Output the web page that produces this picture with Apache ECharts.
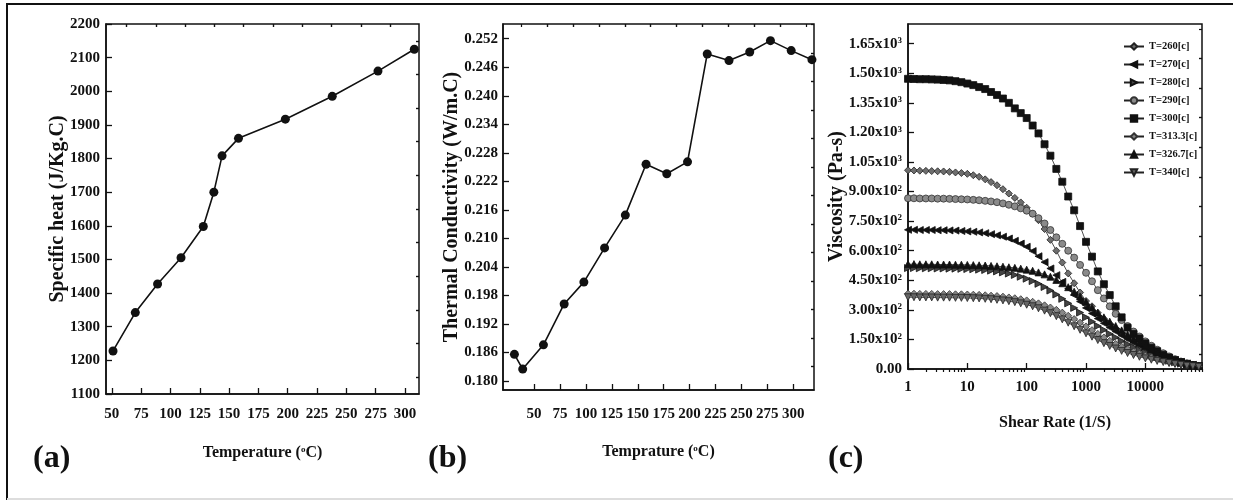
<!DOCTYPE html>
<html lang="en">
<head>
<meta charset="UTF-8">
<title>Specific heat, thermal conductivity and viscosity</title>
<script src="https://cdn.jsdelivr.net/npm/echarts@6/dist/echarts.min.js"></script>
<style>
  body { margin: 0; background: #fff; }
  #chart { width: 1233px; height: 502px; }
</style>
</head>
<body>
<div id="chart"></div>
<script>
// (a) specific heat
var tempA = [51, 70, 89, 109, 128, 137, 144, 158, 198, 238, 277, 308];
var heatA = [1228, 1342, 1427, 1505, 1598, 1700, 1808, 1860, 1917, 1985, 2060, 2125];

// (b) thermal conductivity
var tempB = [31, 39, 59, 79, 98, 118, 138, 158, 178, 198, 217, 238, 258, 278, 298, 318];
var condB = [0.1856, 0.1825, 0.1876, 0.1962, 0.2008, 0.2080, 0.2149, 0.2256, 0.2236, 0.2261,
             0.2488, 0.2474, 0.2492, 0.2516, 0.2495, 0.2476];

// (c) viscosity vs shear rate
var shearRate = [1, 1.26, 1.58, 2, 2.51, 3.16, 3.98, 5.01, 6.31, 7.94,
                 10, 12.6, 15.8, 20, 25.1, 31.6, 39.8, 50.1, 63.1, 79.4,
                 100, 126, 158, 200, 251, 316, 398, 501, 631, 794,
                 1000, 1260, 1580, 2000, 2510, 3160, 3980, 5010, 6310, 7940,
                 10000, 12600, 15800, 20000, 25100, 31600, 39800, 50100, 63100, 79400];
var visc260 = [1008, 1007, 1006, 1005, 1004, 1003, 1002, 1000, 997, 994,
               990, 983, 975, 962, 948, 932, 912, 890, 868, 845,
               818, 788, 755, 710, 655, 600, 540, 485, 435, 388,
               345, 318, 285, 255, 230, 205, 180, 158, 138, 120,
               104, 88, 74, 61, 50, 40, 32, 25, 19, 14];
var visc270 = [706, 706, 705, 705, 705, 704, 704, 703, 702, 700,
               698, 696, 693, 689, 684, 678, 671, 662, 650, 636,
               620, 598, 572, 542, 510, 476, 442, 408, 375, 342,
               310, 282, 256, 232, 210, 190, 170, 152, 136, 120,
               106, 92, 79, 66, 55, 45, 36, 28, 21, 15];
var visc280 = [512, 512, 511, 511, 511, 510, 510, 509, 509, 508,
               507, 506, 504, 502, 499, 495, 490, 484, 477, 468,
               458, 446, 432, 416, 398, 378, 356, 333, 310, 286,
               262, 240, 218, 198, 178, 160, 142, 126, 111, 97,
               84, 72, 61, 51, 42, 34, 27, 21, 16, 12];
var visc290 = [866, 866, 865, 865, 865, 864, 864, 863, 862, 861,
               860, 858, 856, 853, 850, 846, 840, 833, 825, 815,
               803, 788, 765, 738, 705, 668, 635, 600, 565, 528,
               488, 445, 400, 358, 318, 280, 248, 218, 190, 165,
               140, 118, 98, 80, 64, 50, 38, 29, 21, 15];
var visc300 = [1472, 1471, 1470, 1470, 1469, 1468, 1466, 1464, 1460, 1455,
               1448, 1440, 1430, 1420, 1405, 1390, 1372, 1350, 1322, 1298,
               1273, 1235, 1195, 1140, 1082, 1015, 950, 875, 805, 725,
               645, 570, 495, 430, 375, 318, 262, 210, 178, 155,
               130, 108, 90, 72, 58, 45, 35, 26, 20, 15];
var visc313 = [382, 382, 381, 381, 381, 380, 380, 380, 379, 379,
               378, 377, 376, 374, 372, 370, 367, 363, 359, 354,
               348, 341, 333, 323, 312, 300, 286, 270, 253, 235,
               216, 197, 178, 160, 143, 127, 113, 100, 88, 78,
               68, 59, 51, 43, 36, 30, 25, 20, 16, 12];
var visc327 = [532, 532, 531, 531, 531, 530, 530, 530, 529, 529,
               528, 527, 526, 525, 523, 521, 519, 516, 513, 509,
               504, 498, 490, 480, 468, 452, 435, 415, 392, 368,
               340, 312, 285, 262, 240, 218, 196, 175, 155, 136,
               118, 100, 84, 70, 57, 46, 36, 28, 21, 15];
var visc340 = [364, 364, 363, 363, 363, 362, 362, 362, 361, 361,
               360, 359, 358, 356, 354, 351, 348, 344, 339, 333,
               326, 318, 308, 296, 283, 268, 252, 235, 217, 199,
               181, 164, 147, 131, 117, 104, 92, 81, 71, 62,
               54, 47, 41, 35, 30, 25, 21, 17, 14, 11];

// tick values
var tempTicks = [50, 75, 100, 125, 150, 175, 200, 225, 250, 275, 300];
var heatTicks = [1100, 1200, 1300, 1400, 1500, 1600, 1700, 1800, 1900, 2000, 2100, 2200];
var condTicks = [0.180, 0.186, 0.192, 0.198, 0.204, 0.210, 0.216, 0.222, 0.228, 0.234, 0.240, 0.246, 0.252];
var viscTicks = [0, 150, 300, 450, 600, 750, 900, 1050, 1200, 1350, 1500, 1650];
var rateTicks = [1, 10, 100, 1000, 10000];

var FONT = 'Liberation Serif';

function halfSteps(ticks, step) {
    var out = [];
    ticks.forEach(function (v) { out.push(v - step / 2, v + step / 2); });
    return out;
}
var rateMinor = [];
[1, 10, 100, 1000, 10000].forEach(function (d) {
    for (var k = 2; k <= 9; k++) rateMinor.push(d * k);
});

function plain(v) { return String(v); }

function mainAxis(grid, type, min, max, ticks, fmt, margin, name, nameGap, nameSize) {
    return {
        gridIndex: grid, type: type, min: min, max: max,
        name: name, nameLocation: 'middle', nameGap: nameGap, nameMoveOverlap: false,
        nameTextStyle: {
            fontFamily: FONT, fontWeight: 'bold', fontSize: nameSize, color: '#111',
            rich: { sup: { fontFamily: FONT, fontWeight: 'bold', fontSize: 9, color: '#111', verticalAlign: 'top' } }
        },
        axisLine: { show: true, lineStyle: { color: '#111', width: 1.5 } },
        axisTick: { show: true, inside: true, length: 6, customValues: ticks, lineStyle: { color: '#111', width: 1.3 } },
        axisLabel: {
            customValues: ticks, formatter: fmt, margin: margin,
            fontFamily: FONT, fontWeight: 'bold', fontSize: 15, color: '#111',
            rich: { sup: { fontFamily: FONT, fontWeight: 'bold', fontSize: 9, color: '#111', verticalAlign: 'top' } }
        },
        splitLine: { show: false }
    };
}
function minorAxis(grid, type, min, max, minor) {
    return {
        gridIndex: grid, type: type, min: min, max: max,
        axisLine: { show: false },
        axisTick: { show: true, inside: true, length: 3, customValues: minor, lineStyle: { color: '#111', width: 1.2 } },
        axisLabel: { show: false },
        splitLine: { show: false }
    };
}

function sci(v) {
    if (v === 0) return '0.00';
    var e = Math.floor(Math.log10(v) + 1e-9);
    return (v / Math.pow(10, e)).toFixed(2) + 'x10{sup|' + e + '}';
}

var chart = echarts.init(document.getElementById('chart'));

var gridStyle = { show: true, borderColor: '#111', borderWidth: 1.5, backgroundColor: '#fff' };

function viscSeries(name, data, symbol, rotate, fill, border) {
    return {
        name: name, type: 'line', xAxisIndex: 4, yAxisIndex: 4,
        data: shearRate.map(function (x, i) { return [x, data[i]]; }),
        symbol: symbol, symbolSize: 7, symbolRotate: rotate, showAllSymbol: true,
        lineStyle: { color: '#222', width: 0.8 },
        itemStyle: { color: fill, borderColor: border, borderWidth: 0.8 },
        emphasis: { disabled: true }
    };
}

var option = {
    animation: false,
    backgroundColor: '#fff',
    grid: [
        Object.assign({ left: 106, top: 24, width: 313, height: 370 }, gridStyle),
        Object.assign({ left: 503, top: 24, width: 311, height: 366 }, gridStyle),
        Object.assign({ left: 908, top: 24, width: 294, height: 345 }, gridStyle)
    ],
    xAxis: [
        mainAxis(0, 'value', 45, 312, tempTicks, plain, 13, 'Temperature ({sup|o}C)', 51, 16),
        minorAxis(0, 'value', 45, 312, halfSteps(tempTicks, 25)),
        mainAxis(1, 'value', 20, 320, tempTicks, plain, 17, 'Temprature ({sup|o}C)', 54, 16),
        minorAxis(1, 'value', 20, 320, halfSteps(tempTicks, 25)),
        mainAxis(2, 'log', 1, 90000, rateTicks, plain, 11, 'Shear Rate (1/S)', 46, 16),
        minorAxis(2, 'log', 1, 90000, rateMinor)
    ],
    yAxis: [
        mainAxis(0, 'value', 1100, 2200, heatTicks, plain, 6, 'Specific heat (J/Kg.C)', 38, 20),
        minorAxis(0, 'value', 1100, 2200, halfSteps(heatTicks, 100)),
        mainAxis(1, 'value', 0.1781, 0.2551, condTicks, function (v) { return v.toFixed(3); }, 5, 'Thermal Conductivity (W/m.C)', 41, 20),
        minorAxis(1, 'value', 0.1781, 0.2551, halfSteps(condTicks, 0.006)),
        mainAxis(2, 'value', 0, 1750, viscTicks, sci, 6, 'Viscosity (Pa-s)', 61, 20),
        minorAxis(2, 'value', 0, 1750, halfSteps(viscTicks, 150))
    ],
    legend: {
        left: 1118, top: 36, orient: 'vertical',
        itemWidth: 20, itemHeight: 8, itemGap: 7,
        textStyle: { fontFamily: FONT, fontWeight: 'bold', fontSize: 10.5, color: '#111' },
        data: ['T=260[c]', 'T=270[c]', 'T=280[c]', 'T=290[c]', 'T=300[c]', 'T=313.3[c]', 'T=326.7[c]', 'T=340[c]']
    },
    graphic: [
        { type: 'polyline', silent: true, shape: { points: [[7, 500], [7, 4], [1233, 4]] }, style: { stroke: '#111', lineWidth: 2, fill: null } },
        { type: 'line', silent: true, shape: { x1: 7, y1: 499, x2: 1233, y2: 499 }, style: { stroke: '#ddd', lineWidth: 2 } },
        { type: 'text', left: 33, top: 443, style: { text: '(a)', font: 'bold 32px "Liberation Serif"', fill: '#111' } },
        { type: 'text', left: 428, top: 443, style: { text: '(b)', font: 'bold 32px "Liberation Serif"', fill: '#111' } },
        { type: 'text', left: 828, top: 443, style: { text: '(c)', font: 'bold 32px "Liberation Serif"', fill: '#111' } }
    ],
    series: [
        {
            type: 'line', xAxisIndex: 0, yAxisIndex: 0,
            data: tempA.map(function (t, i) { return [t, heatA[i]]; }),
            symbol: 'circle', symbolSize: 9,
            lineStyle: { color: '#111', width: 1.6 }, itemStyle: { color: '#111' }
        },
        {
            type: 'line', xAxisIndex: 2, yAxisIndex: 2,
            data: tempB.map(function (t, i) { return [t, condB[i]]; }),
            symbol: 'circle', symbolSize: 9,
            lineStyle: { color: '#111', width: 1.6 }, itemStyle: { color: '#111' }
        },
        viscSeries('T=260[c]', visc260, 'diamond', 0, '#6e6e6e', '#222'),
        viscSeries('T=270[c]', visc270, 'triangle', 90, '#111', '#111'),
        viscSeries('T=280[c]', visc280, 'triangle', -90, '#444', '#111'),
        viscSeries('T=290[c]', visc290, 'circle', 0, '#8a8a8a', '#333'),
        viscSeries('T=300[c]', visc300, 'rect', 0, '#111', '#111'),
        viscSeries('T=313.3[c]', visc313, 'diamond', 0, '#888', '#333'),
        viscSeries('T=326.7[c]', visc327, 'triangle', 0, '#111', '#111'),
        viscSeries('T=340[c]', visc340, 'triangle', 180, '#666', '#222')
    ]
};
chart.setOption(option);
</script>
</body>
</html>
